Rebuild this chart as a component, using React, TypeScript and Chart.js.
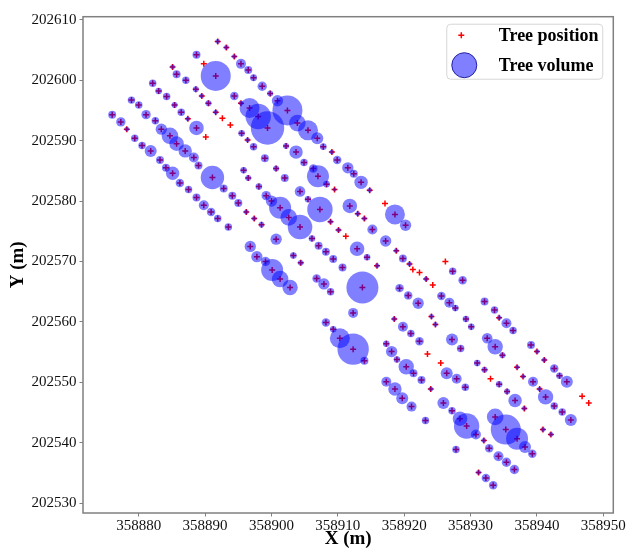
import { useEffect, useRef } from "react";
import { Chart, registerables } from "chart.js";

Chart.register(...registerables);

const FONT = "'Liberation Serif', 'Times New Roman', serif";

// Tree coordinates (m) and volume (m3)
const treeX = [
  358891.9, 358893.2, 358888.7, 358894.4, 358895.4, 358885.1, 358889.8, 358891.6, 358896.5, 358885.7,
  358887.1, 358897.3, 358882.1, 358898.6, 358883.0, 358888.6, 358894.4, 358884.2, 358889.5, 358878.9,
  358890.5, 358895.4, 358880.0, 358885.4, 358896.7, 358886.4, 358891.6, 358881.1, 358876.0, 358892.6,
  358887.4, 358882.5, 358877.3, 358893.8, 358888.7, 358878.2, 358883.4, 358895.5, 358884.7, 358890.1,
  358879.4, 358896.4, 358885.7, 358897.3, 358880.5, 358887.0, 358881.8, 358888.3, 358883.2, 358889.0,
  358884.1, 358885.1, 358891.1, 358895.8, 358896.5, 358886.2, 358892.8, 358898.1, 358887.5, 358894.1,
  358888.7, 358889.8, 358895.0,
  358899.8, 358900.9, 358902.4, 358898.0, 358899.4, 358903.9, 358905.5, 358906.9, 358902.2, 358903.7,
  358907.8, 358909.1, 358899.0, 358904.9, 358909.9, 358911.5, 358906.3, 358900.7, 358912.4, 358907.0,
  358902.0, 358913.5, 358908.3, 358914.8, 358904.3, 358909.5, 358899.2, 358905.5,
  358890.9, 358896.2, 358891.9, 358897.4, 358893.5, 358898.5, 358896.8, 358897.8, 358899.1, 358900.1,
  358901.3, 358900.0,
  358901.3, 358907.3, 358902.6, 358904.3, 358911.8, 358913.0, 358914.0, 358908.9, 358910.1, 358911.2,
  358917.1, 358918.6, 358920.2, 358915.2, 358917.2, 358900.7, 358906.1, 358907.1, 358908.2, 358909.3,
  358910.7, 358912.9, 358914.4, 358915.9, 358918.8, 358919.8, 358920.8, 358921.3, 358922.3, 358923.3,
  358924.3, 358926.2, 358927.3,
  358902.8, 358903.3, 358904.4, 358906.8, 358907.9, 358908.9, 358913.7, 358919.3, 358920.6, 358922.1,
  358925.6, 358926.8, 358927.7, 358912.3, 358918.5, 358924.1, 358908.2,
  358924.7, 358919.8, 358921.0, 358922.3, 358909.3, 358910.3, 358912.3, 358914.0, 358927.2, 358917.3,
  358918.1, 358918.9, 358920.3, 358921.4, 358922.6, 358923.5, 358925.5, 358926.4, 358927.9, 358917.3,
  358918.6, 358919.7, 358921.1, 358924.0, 358925.9, 358927.2, 358923.2,
  358928.8, 358932.1, 358933.6, 358934.3, 358935.4, 358936.4, 358929.3, 358930.1, 358928.5, 358932.5,
  358933.7, 358934.8, 358939.1, 358940.0, 358941.1, 358942.6, 358943.4, 358944.5, 358931.0, 358932.1,
  358937.0, 358937.9, 358933.0, 358939.4,
  358929.2, 358934.3, 358935.5, 358936.7, 358938.1, 358940.4, 358941.3, 358942.6, 358943.8, 358945.1,
  358946.8, 358947.8, 358928.4, 358929.4, 358930.8, 358932.0, 358932.8, 358934.2, 358935.4, 358936.6,
  358933.7, 358935.3, 358937.0, 358938.2, 358939.3, 358940.9, 358942.1, 358927.8, 358931.2, 358932.3,
  358933.4,
];

const treeY = [
  202606.4, 202605.4, 202604.2, 202603.9, 202602.7, 202602.2, 202602.7, 202600.7, 202601.7, 202601.0,
  202600.0, 202600.4, 202599.5, 202599.0, 202598.2, 202598.5, 202597.4, 202597.3, 202597.4, 202596.7,
  202596.2, 202596.2, 202595.9, 202595.9, 202595.4, 202594.7, 202594.7, 202594.3, 202594.3, 202593.7,
  202593.6, 202593.3, 202593.1, 202592.6, 202592.1, 202591.9, 202591.9, 202591.2, 202590.8, 202590.6,
  202590.4, 202590.1, 202589.5, 202589.0, 202589.2, 202588.3, 202588.3, 202587.2, 202586.8, 202585.9,
  202585.5, 202584.6, 202583.9, 202585.1, 202583.8, 202583.0, 202582.1, 202582.4, 202581.9, 202580.9,
  202580.6, 202579.3, 202579.7,
  202597.8, 202596.6, 202595.0, 202594.0, 202592.1, 202592.9, 202591.7, 202590.4, 202589.1, 202588.1,
  202589.0, 202588.1, 202587.1, 202586.4, 202586.8, 202585.5, 202585.4, 202585.4, 202584.5, 202584.1,
  202583.8, 202583.1, 202582.8, 202581.8, 202581.6, 202581.9, 202580.9, 202580.3,
  202578.2, 202578.2, 202577.1, 202577.1, 202575.7, 202576.1, 202572.5, 202570.8, 202570.0, 202568.6,
  202567.1, 202580.0,
  202578.9, 202578.6, 202577.3, 202575.7, 202579.2, 202577.9, 202577.1, 202576.6, 202575.2, 202574.2,
  202579.6, 202577.8, 202576.0, 202575.3, 202573.4, 202573.7, 202573.8, 202572.6, 202571.6, 202570.4,
  202569.0, 202572.1, 202570.7, 202569.3, 202571.8, 202570.5, 202569.6, 202568.7, 202568.2, 202567.1,
  202566.1, 202570.0, 202568.4,
  202565.7, 202571.0, 202569.8, 202567.2, 202566.3, 202565.0, 202565.7, 202565.6, 202564.4, 202563.1,
  202564.3, 202563.2, 202562.3, 202561.5, 202560.5, 202560.9, 202559.9,
  202559.6, 202559.2, 202558.1, 202556.8, 202558.8, 202557.3, 202555.5, 202553.6, 202557.1, 202556.4,
  202555.1, 202553.8, 202552.6, 202551.5, 202550.4, 202554.7, 202553.2, 202551.5, 202550.6, 202550.1,
  202548.9, 202547.4, 202546.0, 202548.9, 202546.6, 202545.3, 202543.7,
  202566.9, 202563.4, 202562.0, 202560.7, 202559.8, 202558.6, 202560.5, 202559.2, 202555.6, 202557.3,
  202555.9, 202554.5, 202556.2, 202555.1, 202553.7, 202552.3, 202551.1, 202550.1, 202553.2, 202552.1,
  202552.5, 202551.0, 202550.6, 202550.1,
  202549.2, 202549.7, 202548.5, 202547.0, 202545.7, 202548.9, 202547.6, 202546.1, 202545.1, 202543.8,
  202547.7, 202546.6, 202544.0, 202542.8, 202541.4, 202540.4, 202539.1, 202537.8, 202536.8, 202535.6,
  202544.3, 202542.2, 202540.7, 202539.3, 202538.2, 202542.2, 202541.4, 202538.9, 202535.1, 202534.2,
  202533.0,
];

const treeVolume = [
  0.06, 0.06, 0.16, 0.06, 0.25, 0.06, 0, 2.25, 0.16, 0.16,
  0.14, 0.12, 0.14, 0.22, 0.11, 0.09, 0.18, 0.14, 0.06, 0.14,
  0.09, 0.06, 0.14, 0.09, 1.0, 0.14, 0.06, 0.22, 0.16, 0,
  0.06, 0.14, 0.22, 0, 0.53, 0.06, 0.32, 0.11, 0.69, 0,
  0.14, 0.06, 0.53, 0.14, 0.14, 0.45, 0.36, 0.25, 0.16, 0.16,
  0.16, 0.45, 1.37, 0.11, 0.09, 0.18, 0.16, 0.11, 0.14, 0.16,
  0.16, 0.25, 0.16,
  0.09, 0.32, 2.25, 1.61, 2.79, 0.69, 1.0, 0.36, 0.09, 0.45,
  0.11, 0.06, 0.16, 0.14, 0.18, 0.32, 0.18, 0.09, 0.16, 1.21,
  0.16, 0.45, 0.11, 0.06, 0.28, 0.04, 0.22, 0.11,
  0.18, 0.06, 0.14, 0.06, 0.14, 0.08, 0.32, 0.32, 0.22, 1.21,
  0.69, 0.32,
  1.21, 1.61, 0.69, 1.51, 0.53, 0.06, 0.06, 0.06, 0.06, 0,
  0, 1.0, 0.32, 0.25, 0.32, 0.32, 0.11, 0.16, 0.16, 0.16,
  0.16, 0.53, 0.11, 0.06, 0.06, 0.16, 0.06, 0, 0, 0.06,
  0, 0, 0.14,
  0.59, 0.11, 0.08, 0.18, 0.32, 0.14, 2.56, 0.18, 0.18, 0.32,
  0.18, 0.25, 0.11, 0.25, 0.06, 0.06, 0.18,
  0.06, 0.25, 0.14, 0.18, 0.11, 1.0, 2.46, 0.16, 0.36, 0.11,
  0.32, 0.11, 0.59, 0.16, 0.16, 0, 0, 0.36, 0.25, 0.25,
  0.45, 0.36, 0.25, 0.06, 0.36, 0.14, 0.14,
  0.18, 0.16, 0.14, 0.06, 0.25, 0.14, 0.11, 0.11, 0.14, 0.28,
  0.59, 0.09, 0.16, 0.06, 0.06, 0.18, 0.11, 0.36, 0.11, 0.09,
  0.05, 0.05, 0, 0.25,
  0.14, 0.11, 0.09, 0.45, 0.06, 0.06, 0.59, 0.14, 0.14, 0.36,
  0, 0, 0.53, 1.61, 0.25, 0.06, 0.18, 0.25, 0.22, 0.22,
  0.69, 2.25, 1.21, 0.36, 0.18, 0.06, 0.06, 0.14, 0.06, 0.18,
  0.18,
];

const xTicks = [358880, 358890, 358900, 358910, 358920, 358930, 358940, 358950];
const yTicks = [202530, 202540, 202550, 202560, 202570, 202580, 202590, 202600, 202610];
const xLimits = [358871.6, 358951.5];
const yLimits = [202528.4, 202610.5];
const seriesLabels = ["Tree position", "Tree volume"];
const xTitle = "X (m)";
const yTitle = "Y (m)";

const volumeToRadius = (v: number) => 10 * Math.sqrt(v);

const framePlugin = {
  id: "frame",
  afterDraw(chart: any) {
    const { ctx, chartArea: a } = chart;
    ctx.save();
    ctx.strokeStyle = "#808080";
    ctx.lineWidth = 1.5;
    ctx.strokeRect(a.left, a.top, a.right - a.left, a.bottom - a.top);
    ctx.restore();
  },
};

const legendPlugin = {
  id: "mplLegend",
  afterDraw(chart: any) {
    const { ctx, chartArea: a } = chart;
    const ds = chart.data.datasets;
    const bx = a.right - 166.5;
    const by = a.top + 7.5;
    const bw = 156;
    const bh = 55;
    ctx.save();
    ctx.beginPath();
    if (ctx.roundRect) ctx.roundRect(bx, by, bw, bh, 4);
    else ctx.rect(bx, by, bw, bh);
    ctx.fillStyle = "rgba(255,255,255,0.8)";
    ctx.fill();
    ctx.strokeStyle = "#d6d6d6";
    ctx.lineWidth = 1;
    ctx.stroke();

    // cross marker
    const cx = bx + 14.5;
    const cy1 = by + 11;
    ctx.beginPath();
    ctx.strokeStyle = "red";
    ctx.lineWidth = 1.5;
    ctx.moveTo(cx - 3, cy1);
    ctx.lineTo(cx + 3, cy1);
    ctx.moveTo(cx, cy1 - 3);
    ctx.lineTo(cx, cy1 + 3);
    ctx.stroke();

    // circle marker
    const cy2 = by + 41;
    ctx.beginPath();
    ctx.arc(bx + 17.5, cy2, 12.5, 0, Math.PI * 2);
    ctx.fillStyle = "rgba(0,0,255,0.5)";
    ctx.fill();
    ctx.strokeStyle = "rgba(20,20,150,0.9)";
    ctx.lineWidth = 1;
    ctx.stroke();

    ctx.fillStyle = "#000";
    ctx.font = `bold 18px ${FONT}`;
    ctx.textAlign = "left";
    ctx.textBaseline = "middle";
    ctx.fillText(ds[0].label, bx + 52, cy1 + 1);
    ctx.fillText(ds[1].label, bx + 52, cy2 + 1);
    ctx.restore();
  },
};

export default function App() {
  const ref = useRef<HTMLCanvasElement | null>(null);

  useEffect(() => {
    if (!ref.current) return;
    const positions = treeX.map((x, i) => ({ x, y: treeY[i] }));
    const bubbles = treeX
      .map((x, i) => ({ x, y: treeY[i], r: volumeToRadius(treeVolume[i]) }))
      .filter((p) => p.r > 0);

    const tickFont = { family: FONT, size: 15 };
    const titleFont = { family: FONT, size: 19, weight: "bold" as const };

    const chart = new Chart(ref.current, {
      type: "scatter",
      data: {
        datasets: [
          {
            type: "scatter",
            label: seriesLabels[0],
            data: positions,
            pointStyle: "cross",
            pointRadius: 3,
            pointBorderColor: "red",
            pointBackgroundColor: "red",
            pointBorderWidth: 1.5,
            order: 2,
          } as any,
          {
            type: "bubble",
            label: seriesLabels[1],
            data: bubbles,
            backgroundColor: "rgba(0,0,255,0.5)",
            borderWidth: 0,
            order: 1,
          } as any,
        ],
      },
      options: {
        responsive: false,
        animation: false,
        devicePixelRatio: 1,
        events: [],
        layout: { padding: { top: 12, right: 14, left: 0, bottom: 0 } },
        plugins: {
          legend: { display: false },
          tooltip: { enabled: false },
        },
        scales: {
          x: {
            type: "linear",
            position: "bottom",
            min: xLimits[0],
            max: xLimits[1],
            afterFit: (s: any) => {
              s.height = 39;
            },
            afterBuildTicks: (s: any) => {
              s.ticks = xTicks.map((v) => ({ value: v }));
            },
            ticks: {
              font: tickFont,
              color: "#111",
              padding: 0.5,
              maxRotation: 0,
              autoSkip: false,
              callback: (v: any) => String(v),
            },
            grid: {
              display: true,
              drawOnChartArea: false,
              drawTicks: true,
              tickLength: 3.5,
              color: "#808080",
              lineWidth: 1,
            },
            border: { display: false },
            title: {
              display: true,
              text: xTitle,
              font: titleFont,
              color: "#000",
              padding: { top: 0, bottom: 2 },
            },
          },
          y: {
            type: "linear",
            position: "left",
            min: yLimits[0],
            max: yLimits[1],
            afterFit: (s: any) => {
              s.width = 83;
            },
            afterBuildTicks: (s: any) => {
              s.ticks = yTicks.map((v) => ({ value: v }));
            },
            ticks: {
              font: tickFont,
              color: "#111",
              padding: 3,
              autoSkip: false,
              callback: (v: any) => String(v),
            },
            grid: {
              display: true,
              drawOnChartArea: false,
              drawTicks: true,
              tickLength: 3.5,
              color: "#808080",
              lineWidth: 1,
            },
            border: { display: false },
            title: {
              display: true,
              text: yTitle,
              font: titleFont,
              color: "#000",
              padding: { top: 7, bottom: 0 },
            },
          },
        },
      },
      plugins: [framePlugin, legendPlugin],
    });

    return () => chart.destroy();
  }, []);

  return (
    <div style={{ position: "absolute", left: 0, top: 0, width: 630, height: 552, background: "#fff" }}>
      <canvas ref={ref} width={630} height={552} style={{ display: "block" }} />
    </div>
  );
}
